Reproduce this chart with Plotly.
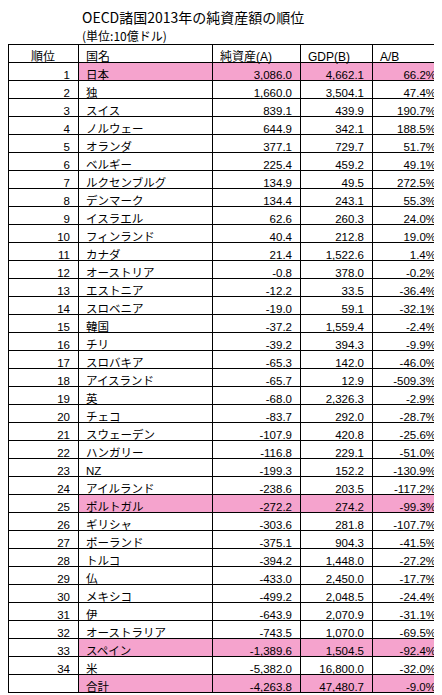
import plotly.graph_objects as go

ranks = [str(i) for i in range(1, 35)] + [""]
names = ["日本","独","スイス","ノルウェー","オランダ","ベルギー","ルクセンブルグ","デンマーク","イスラエル","フィンランド",
         "カナダ","オーストリア","エストニア","スロベニア","韓国","チリ","スロバキア","アイスランド","英","チェコ",
         "スウェーデン","ハンガリー","NZ","アイルランド","ポルトガル","ギリシャ","ポーランド","トルコ","仏","メキシコ",
         "伊","オーストラリア","スペイン","米","合計"]
net_assets = [3086.0,1660.0,839.1,644.9,377.1,225.4,134.9,134.4,62.6,40.4,21.4,-0.8,-12.2,-19.0,-37.2,-39.2,-65.3,-65.7,
              -68.0,-83.7,-107.9,-116.8,-199.3,-238.6,-272.2,-303.6,-375.1,-394.2,-433.0,-499.2,-643.9,-743.5,-1389.6,-5382.0,-4263.8]
gdp = [4662.1,3504.1,439.9,342.1,729.7,459.2,49.5,243.1,260.3,212.8,1522.6,378.0,33.5,59.1,1559.4,394.3,142.0,12.9,
       2326.3,292.0,420.8,229.1,152.2,203.5,274.2,281.8,904.3,1448.0,2450.0,2048.5,2070.9,1070.0,1504.5,16800.0,47480.7]
ratio = [66.2,47.4,190.7,188.5,51.7,49.1,272.5,55.3,24.0,19.0,1.4,-0.2,-36.4,-32.1,-2.4,-9.9,-46.0,-509.3,
         -2.9,-28.7,-25.6,-51.0,-130.9,-117.2,-99.3,-107.7,-41.5,-27.2,-17.7,-24.4,-31.1,-69.5,-92.4,-32.0,-9.0]
highlight = {"日本", "ポルトガル", "スペイン", "合計"}

PINK = "#f5a3cd"
fills_rank = ["white"] * len(names)
fills_other = [PINK if n in highlight else "white" for n in names]

FONT = "Liberation Sans, Noto Sans CJK JP"
fig = go.Figure(go.Table(
    domain=dict(x=[0, 436/442], y=[0, 1 - 36/695]),
    columnwidth=[70, 134, 88, 72, 72],
    header=dict(values=["順位", "国名", "純資産(A)", "GDP(B)", "A/B"],
                align=["center", "left", "left", "left", "left"],
                fill_color="white", line=dict(color="black", width=1),
                font=dict(family=FONT, size=12, color="black"), height=18),
    cells=dict(values=[ranks, names, [f"{v:,.1f}" for v in net_assets],
                       [f"{v:,.1f}" for v in gdp], [f"{v:.1f}%" for v in ratio]],
               align=["right", "left", "right", "right", "right"],
               fill_color=[fills_rank, fills_other, fills_other, fills_other, fills_other],
               line=dict(color="black", width=1),
               font=dict(family=FONT, size=11.5, color="black"), height=18),
))
fig.add_annotation(text="OECD諸国2013年の純資産額の順位", x=72/442, y=1 - 9/695, xref="paper", yref="paper",
                   xanchor="left", yanchor="middle", showarrow=False,
                   font=dict(family="Noto Sans CJK JP", size=14, color="black"))
fig.add_annotation(text="(単位:10億ドル)", x=72/442, y=1 - 27/695, xref="paper", yref="paper",
                   xanchor="left", yanchor="middle", showarrow=False,
                   font=dict(family="Noto Sans CJK JP", size=12, color="black"))
fig.update_layout(width=442, height=695, margin=dict(l=0, r=0, t=0, b=0), paper_bgcolor="white")
fig.write_html("out.html")
